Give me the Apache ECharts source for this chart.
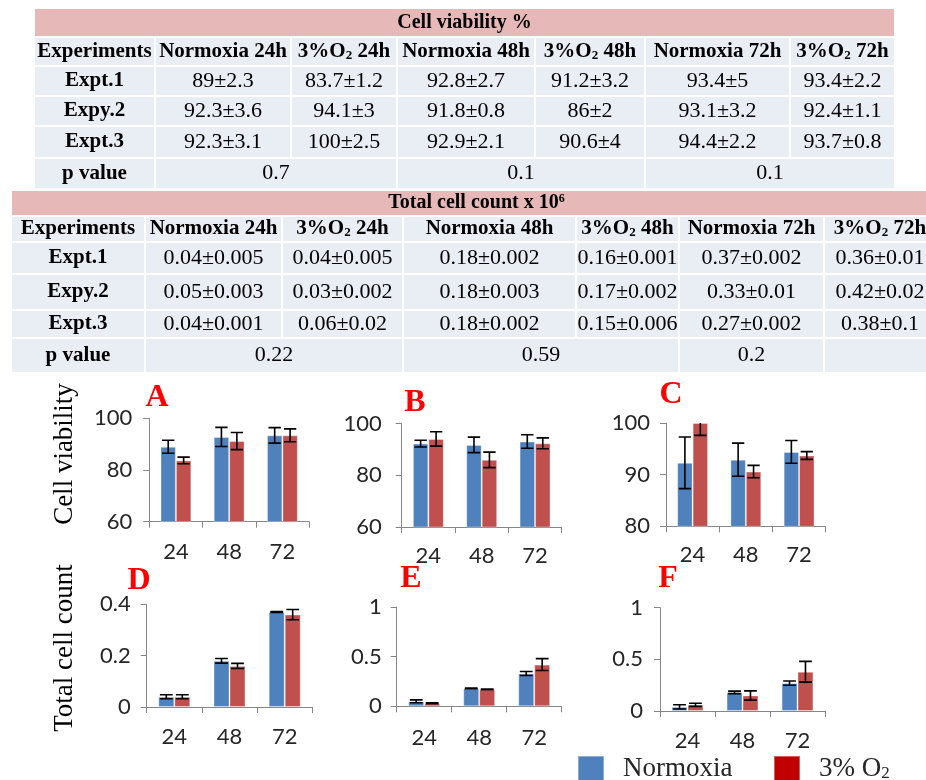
<!DOCTYPE html>
<html>
<head>
<meta charset="utf-8">
<script src="https://cdn.jsdelivr.net/npm/echarts@6/dist/echarts.min.js"></script>
<style>
  html, body { margin: 0; padding: 0; background: #fff; }
  #chart { width: 926px; height: 780px; }
</style>
</head>
<body>
<div id="chart"></div>
<script>
// ---------- data ----------
const timepoints = ['24', '48', '72'];
const experiments = ['Expt.1', 'Expy.2', 'Expt.3'];
const conditionHeaders = ['Normoxia 24h', '3%O2 24h', 'Normoxia 48h', '3%O2 48h', 'Normoxia 72h', '3%O2 72h'];
const seriesNames = ['Normoxia', '3% O2'];
const panelLetters = ['A', 'B', 'C', 'D', 'E', 'F'];

// Cell viability (%), one row per experiment, columns = 24 h, 48 h, 72 h
const viabilityNormoxia = [[89, 92.8, 93.4], [92.3, 91.8, 93.1], [92.3, 92.9, 94.4]];
const viabilityNormoxiaSD = [[2.3, 2.7, 5], [3.6, 0.8, 3.2], [3.1, 2.1, 2.2]];
const viabilityHypoxia = [[83.7, 91.2, 93.4], [94.1, 86, 92.4], [100, 90.6, 93.7]];
const viabilityHypoxiaSD = [[1.2, 3.2, 2.2], [3, 2, 1.1], [2.5, 4, 0.8]];
const viabilityP = ['0.7', '0.1', '0.1'];
// error bar half-lengths drawn on the viability plots
const viabilityNormoxiaBar = [[2.5, 3.7, 3.0], [1.3, 3.0, 2.6], [5.0, 3.2, 2.2]];
const viabilityHypoxiaBar = [[1.3, 3.3, 2.5], [2.8, 3.0, 2.1], [2.4, 1.2, 0.75]];

// Total cell count (x 10^6)
const countNormoxia = [[0.04, 0.18, 0.37], [0.05, 0.18, 0.33], [0.04, 0.18, 0.27]];
const countNormoxiaSD = [[0.005, 0.002, 0.002], [0.003, 0.003, 0.01], [0.001, 0.002, 0.002]];
const countHypoxia = [[0.04, 0.16, 0.36], [0.03, 0.17, 0.42], [0.06, 0.15, 0.38]];
const countHypoxiaSD = [[0.005, 0.001, 0.01], [0.002, 0.002, 0.02], [0.02, 0.006, 0.1]];
const countP = ['0.22', '0.59', '0.2', ''];
// error bar half-lengths drawn on the cell count plots
const countNormoxiaBar = [[0.008, 0.009, 0.002], [0.015, 0.004, 0.02], [0.02, 0.012, 0.02]];
const countHypoxiaBar = [[0.008, 0.01, 0.02], [0.005, 0.004, 0.06], [0.015, 0.045, 0.1]];

// ---------- styling ----------
const SERIF = '"Liberation Serif", "Times New Roman", serif';
const SANS = 'Lato, "Open Sans", sans-serif';
const BLUE = '#4f81bd';
const RED = '#c0504d';
const AXIS_GREY = '#868686';
const PINK = '#e6b9b8';
const CELL = '#e9edf4';
const BAR_FRAC = 0.29;

const subRich = (size, weight) => ({
  sub: { fontSize: size, fontFamily: SERIF, fontWeight: weight, verticalAlign: 'bottom', lineHeight: size, fill: '#000', color: '#000' },
  sup: { fontSize: size, fontFamily: SERIF, fontWeight: weight, verticalAlign: 'top', lineHeight: size, fill: '#000', color: '#000' }
});
const withSub = s => s.replace('O2', 'O{sub|2}');
const fmt = (m, s) => m + '\u00b1' + s;

// ---------- tables ----------
const graphics = [];
function rect(x0, x1, y0, y1, fill) {
  graphics.push({ type: 'rect', silent: true, z: 1,
    shape: { x: x0 + 1, y: y0 + 1, width: x1 - x0 - 2, height: y1 - y0 - 2 },
    style: { fill } });
}
function text(str, cx, cy, size, weight, rich, extra) {
  graphics.push(Object.assign({ type: 'text', silent: true, z: 2,
    style: { text: str, x: cx, y: cy, align: 'center', verticalAlign: 'middle',
      fontFamily: SERIF, fontSize: size, fontWeight: weight, fill: '#000', rich: rich || subRich(Math.round(size * 0.62), weight) } }, extra || {}));
}

function buildTable(cfg) {
  const c = cfg.cols, r = cfg.rows;
  // title band
  rect(c[0], c[c.length - 1], r[0], r[1], PINK);
  text(cfg.title, (c[0] + Math.min(c[c.length - 1], 926)) / 2 + cfg.titleShift, (r[0] + r[1]) / 2, 20, 'bold');
  // header row
  const heads = ['Experiments'].concat(conditionHeaders);
  for (let j = 0; j < heads.length; j++) {
    rect(c[j], c[j + 1], r[1], r[2], CELL);
    text(withSub(heads[j]), (c[j] + c[j + 1]) / 2, (r[1] + r[2]) / 2, 21, 'bold');
  }
  // experiment rows
  for (let e = 0; e < experiments.length; e++) {
    const y0 = r[2 + e], y1 = r[3 + e], cy = (y0 + y1) / 2;
    const vals = [];
    for (let t = 0; t < 3; t++) {
      vals.push(fmt(cfg.n[e][t], cfg.nsd[e][t]));
      vals.push(fmt(cfg.h[e][t], cfg.hsd[e][t]));
    }
    rect(c[0], c[1], y0, y1, CELL);
    text(experiments[e], (c[0] + c[1]) / 2, cy, 21, 'bold');
    for (let j = 0; j < vals.length; j++) {
      rect(c[j + 1], c[j + 2], y0, y1, CELL);
      text(vals[j], (c[j + 1] + c[j + 2]) / 2, cy, 22, 'normal');
    }
  }
  // p value row
  const y0 = r[5], y1 = r[6], cy = (y0 + y1) / 2;
  rect(c[0], c[1], y0, y1, CELL);
  text('p value', (c[0] + c[1]) / 2, cy, 21, 'bold');
  for (let k = 0; k < cfg.p.length; k++) {
    const a = c[cfg.pSpans[k][0]], b = c[cfg.pSpans[k][1]];
    rect(a, b, y0, y1, CELL);
    if (cfg.p[k]) text(cfg.p[k], (a + b) / 2, cy, 22, 'normal');
  }
}

buildTable({
  title: 'Cell viability %', titleShift: 0,
  cols: [34, 155, 291, 397, 535, 645, 790, 895],
  rows: [8, 37, 66, 96, 126, 158, 189],
  n: viabilityNormoxia, nsd: viabilityNormoxiaSD, h: viabilityHypoxia, hsd: viabilityHypoxiaSD,
  p: viabilityP, pSpans: [[1, 3], [3, 5], [5, 7]]
});
buildTable({
  title: 'Total cell count x 10{sup|6}', titleShift: 8,
  cols: [11, 145, 282, 403, 576, 679, 824, 936],
  rows: [190, 216, 242, 274, 310, 338, 373],
  n: countNormoxia, nsd: countNormoxiaSD, h: countHypoxia, hsd: countHypoxiaSD,
  p: countP, pSpans: [[1, 3], [3, 5], [5, 6], [6, 7]]
});

// ---------- plot panels ----------
const panelBoxes = [
  { l: 149.3, t: 418.3, r: 309.0, b: 521.7, min: 60, max: 100, step: 20, ym: 17, xm: 19 },
  { l: 401.7, t: 423.7, r: 561.7, b: 527.0, min: 60, max: 100, step: 20, ym: 20, xm: 18 },
  { l: 666.0, t: 423.0, r: 825.7, b: 526.3, min: 80, max: 100, step: 10, ym: 16, xm: 18 },
  { l: 146.7, t: 604.3, r: 312.3, b: 707.0, min: 0, max: 0.4, step: 0.2, ym: 16, xm: 19 },
  { l: 396.7, t: 607.0, r: 561.7, b: 706.3, min: 0, max: 1, step: 0.5, ym: 15, xm: 21 },
  { l: 660.0, t: 607.7, r: 825.0, b: 711.0, min: 0, max: 1, step: 0.5, ym: 17, xm: 19 }
];
const letterPos = [[157, 398], [415, 403], [671, 395], [139, 581], [411, 579], [668, 579]];

const panelData = [];
for (let e = 0; e < 3; e++) panelData.push({ n: viabilityNormoxia[e], h: viabilityHypoxia[e], ne: viabilityNormoxiaBar[e], he: viabilityHypoxiaBar[e] });
for (let e = 0; e < 3; e++) panelData.push({ n: countNormoxia[e], h: countHypoxia[e], ne: countNormoxiaBar[e], he: countHypoxiaBar[e] });

function errorRenderer(side) {
  return function (params, api) {
    const i = api.value(0);
    const lo = api.coord([i, api.value(1)]);
    const hi = api.coord([i, api.value(2)]);
    const band = api.size([1, 0])[0];
    const bw = band * BAR_FRAC;
    const x = lo[0] + side * bw / 2;
    const cap = bw * 0.4;
    const st = { stroke: '#000', lineWidth: 1.6 };
    return { type: 'group', children: [
      { type: 'line', shape: { x1: x, y1: lo[1], x2: x, y2: hi[1] }, style: st },
      { type: 'line', shape: { x1: x - cap, y1: lo[1], x2: x + cap, y2: lo[1] }, style: st },
      { type: 'line', shape: { x1: x - cap, y1: hi[1], x2: x + cap, y2: hi[1] }, style: st }
    ] };
  };
}

const grids = [], xAxes = [], yAxes = [], series = [];
panelBoxes.forEach((p, k) => {
  grids.push({ left: p.l, top: p.t, width: p.r - p.l, height: p.b - p.t, containLabel: false, outerBoundsMode: 'none' });
  xAxes.push({ type: 'category', gridIndex: k, data: timepoints,
    axisLine: { lineStyle: { color: AXIS_GREY, width: 1 } },
    axisTick: { show: true, length: 6, lineStyle: { color: AXIS_GREY } },
    axisLabel: { fontFamily: SANS, fontSize: 22, color: '#262626', margin: p.xm } });
  yAxes.push({ type: 'value', gridIndex: k, min: p.min, max: p.max, interval: p.step,
    axisLine: { show: true, lineStyle: { color: AXIS_GREY, width: 1 } },
    axisTick: { show: true, length: 6, lineStyle: { color: AXIS_GREY } },
    splitLine: { show: false },
    axisLabel: { fontFamily: SANS, fontSize: 22, color: '#262626', margin: p.ym } });
  const d = panelData[k];
  series.push({ name: seriesNames[0], type: 'bar', xAxisIndex: k, yAxisIndex: k, data: d.n,
    barWidth: (BAR_FRAC * 100) + '%', barGap: '0%', itemStyle: { color: BLUE, borderColor: 'rgba(255,255,255,0.35)', borderWidth: 1 } });
  series.push({ name: seriesNames[1], type: 'bar', xAxisIndex: k, yAxisIndex: k, data: d.h,
    barWidth: (BAR_FRAC * 100) + '%', barGap: '0%', itemStyle: { color: RED, borderColor: 'rgba(255,255,255,0.35)', borderWidth: 1 } });
  series.push({ name: seriesNames[0], type: 'custom', xAxisIndex: k, yAxisIndex: k, z: 5, clip: true,
    renderItem: errorRenderer(-1), encode: { x: 0, y: [1, 2] },
    data: d.n.map((v, i) => [i, v - d.ne[i], v + d.ne[i]]) });
  series.push({ name: seriesNames[1], type: 'custom', xAxisIndex: k, yAxisIndex: k, z: 5, clip: true,
    renderItem: errorRenderer(1), encode: { x: 0, y: [1, 2] },
    data: d.h.map((v, i) => [i, v - d.he[i], v + d.he[i]]) });
  text(panelLetters[k], letterPos[k][0], letterPos[k][1], 32, 'bold', null, {});
  graphics[graphics.length - 1].style.fill = '#ff0000';
});

// rotated axis titles (rotation is about the element origin, so they are placed via x/y)
text('Cell viability', 0, 0, 27, 'normal', null, { rotation: Math.PI / 2, x: 65, y: 454 });
text('Total cell count', 0, 0, 27, 'normal', null, { rotation: Math.PI / 2, x: 65, y: 648 });

const legendText = {
  fontFamily: SERIF, fontSize: 27, color: '#262626', padding: [0, 0, 0, 14],
  rich: { sub: { fontFamily: SERIF, fontSize: 17, color: '#262626', verticalAlign: 'bottom', lineHeight: 17, padding: [0, 0, 0, 0] } }
};

const chart = echarts.init(document.getElementById('chart'), null, { renderer: 'canvas' });
chart.setOption({
  animation: false,
  backgroundColor: '#ffffff',
  grid: grids,
  xAxis: xAxes,
  yAxis: yAxes,
  series: series,
  legend: [
    { left: 577, top: 755, padding: 0, itemWidth: 26, itemHeight: 26, icon: 'rect',
      data: [{ name: seriesNames[0], itemStyle: { color: BLUE } }], textStyle: legendText },
    { left: 773, top: 755, padding: 0, itemWidth: 26, itemHeight: 26, icon: 'rect',
      data: [{ name: seriesNames[1], itemStyle: { color: '#c00000' } }], textStyle: legendText,
      formatter: n => withSub(n) }
  ],
  graphic: graphics
});
</script>
</body>
</html>
